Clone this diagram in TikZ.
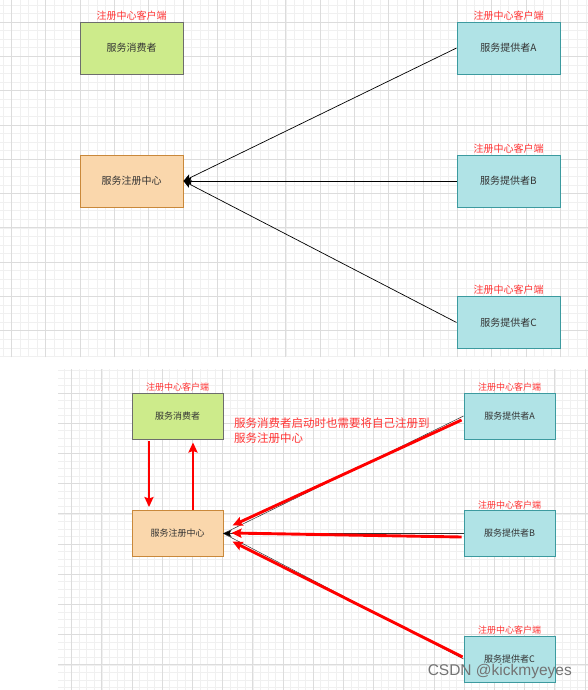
\documentclass[tikz,border=0pt]{standalone}
\usepackage{fontspec}
\newfontfamily\cjk{Noto Sans CJK SC}
\newfontfamily\wmfont{Liberation Sans}
\usetikzlibrary{arrows.meta}
\definecolor{consfill}{HTML}{CDEB8B}
\definecolor{consdraw}{HTML}{6D6D6D}
\definecolor{regfill}{HTML}{FAD7AC}
\definecolor{regdraw}{HTML}{C9883A}
\definecolor{provfill}{HTML}{B0E3E6}
\definecolor{provdraw}{HTML}{3C9A9F}
\definecolor{clientred}{HTML}{FF3333}
\definecolor{txtgray}{HTML}{333333}
\definecolor{minorgrid}{HTML}{F0F0F0}
\definecolor{majorgrid}{HTML}{DCDCDC}

\begin{document}
\begin{tikzpicture}[x=1pt,y=-1pt,
  box/.style={draw,line width=0.9pt,minimum width=103pt,minimum height=52pt,inner sep=0pt,text=txtgray,font=\cjk\fontsize{10}{12}\selectfont},
  sbox/.style={box,minimum width=91pt,minimum height=46pt,font=\cjk\fontsize{9}{11}\selectfont},
  client/.style={label={[font=\cjk\fontsize{10}{12}\selectfont,text=clientred,inner sep=1pt]above:注册中心客户端}},
  sclient/.style={label={[font=\cjk\fontsize{9}{11}\selectfont,text=clientred,inner sep=1pt]above:注册中心客户端}},
  cons/.style={fill=consfill,draw=consdraw},
  reg/.style={fill=regfill,draw=regdraw},
  prov/.style={fill=provfill,draw=provdraw},
  arr/.style={black,line width=0.7pt,-{Stealth[length=8pt,width=7pt,inset=2pt]}},
  thin/.style={black!80,line width=0.5pt},
  redarr/.style={red,line width=2.9pt,-{Stealth[length=10pt,width=9pt,inset=1.5pt]}}
]
\useasboundingbox (0,0) rectangle (588,690);
\fill[white] (0,0) rectangle (588,690);

% Top panel - grid
\begin{scope}[shift={(80,22)}]
  \draw[minorgrid,line width=0.6pt,step=8.575pt] (-80,335) grid (508,-22);
  \draw[majorgrid,line width=0.7pt,step=34.3pt] (-80,335) grid (508,-22);
\end{scope}

% Top panel - consumer and registry
\node[box,cons,client] (consumer) at (131.5,48) {服务消费者};
\node[box,reg] (registry) at (131.5,181) {服务注册中心};

% Top panel - providers
\node[box,prov,client] (provA) at (508.5,48) {服务提供者A};
\node[box,prov,client] (provB) at (508.5,181) {服务提供者B};
\node[box,prov,client] (provC) at (508.5,322.5) {服务提供者C};

% Top panel - arrows
\draw[arr] (provA.west) -- (registry.east);
\draw[arr] (provB.west) -- (registry.east);
\draw[arr] (provC.west) -- (registry.east);

% Bottom panel - grid
\begin{scope}[shift={(132,393)}]
  \draw[minorgrid,line width=0.6pt,step=7.55pt] (-74,297) grid (456,-24);
  \draw[majorgrid,line width=0.7pt,step=30.2pt] (-74,297) grid (456,-24);
\end{scope}

% Bottom panel - consumer and registry
\node[sbox,cons,sclient] (consumer2) at (177.5,416) {服务消费者};
\node[sbox,reg] (registry2) at (177.5,533.5) {服务注册中心};

% Bottom panel - providers
\node[sbox,prov,sclient] (provA2) at (509.5,416) {服务提供者A};
\node[sbox,prov,sclient] (provB2) at (509.5,533.5) {服务提供者B};
\node[sbox,prov,sclient] (provC2) at (509.5,659) {服务提供者C};

% Bottom panel - note
\node[anchor=west,align=left,inner sep=0pt,text=clientred,font=\cjk\fontsize{11.5}{15}\selectfont] (note) at (234,430.5) {服务消费者启动时也需要将自己注册到\\服务注册中心};

% Bottom panel - original links
\draw[thin] (provA2.west) -- (registry2.east);
\draw[thin] (provB2.west) -- (registry2.east);
\draw[thin] (provC2.west) -- (registry2.east);
\fill[black] (registry2.east) -- ++(8,-3.5) -- ++(-2,3.5) -- ++(2,3.5) -- cycle;

% Bottom panel - registration arrows
\draw[redarr] ([shift={(-28.5,2)}]consumer2.south) -- ([shift={(-28.5,-3)}]registry2.north);
\draw[redarr] ([shift={(15.5,0)}]registry2.north) -- ([shift={(15.5,3)}]consumer2.south);
\draw[redarr] ([shift={(-2,4)}]provA2.west) -- ([shift={(9,-8)}]registry2.east);
\draw[redarr] ([shift={(-2,3.5)}]provB2.west) -- ([shift={(8,-0.5)}]registry2.east);
\draw[redarr] ([shift={(-1,-2)}]provC2.west) -- ([shift={(9,8)}]registry2.east);

% Watermark
\node[anchor=east,inner sep=0pt,text=black!55,font=\wmfont\fontsize{15.5}{18}\selectfont] (mark) at (572,671) {CSDN @kickmyeyes};
\end{tikzpicture}
\end{document}
